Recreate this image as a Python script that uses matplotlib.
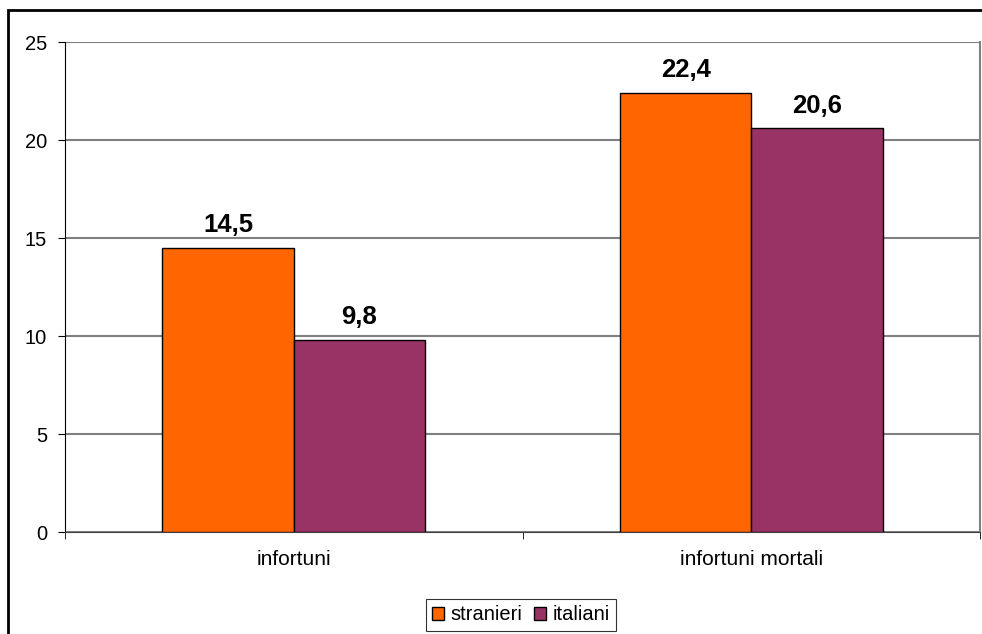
import matplotlib
matplotlib.use("Agg")
import matplotlib.pyplot as plt
import numpy as np
from matplotlib.patches import Rectangle

# Dati del grafico
categorie = ['infortuni', 'infortuni mortali']
stranieri = [14.5, 22.4]
italiani = [9.8, 20.6]
serie = ['stranieri', 'italiani']
colori = ['#FF6600', '#993366']

plt.rcParams['font.family'] = ['Liberation Sans', 'DejaVu Sans']

fig = plt.figure(figsize=(9.82, 6.34), dpi=100)
ax = fig.add_axes([65 / 982, 1 - 532 / 634, 915 / 982, 490 / 634])

# cornice esterna
fig.patches.append(Rectangle((8 / 982, -0.1), 1.2, 1 - 10 / 634 + 0.1,
                             transform=fig.transFigure, fill=False,
                             edgecolor='black', linewidth=2))

x = np.arange(len(categorie))
w = 0.287
b1 = ax.bar(x - w / 2, stranieri, w, color=colori[0], edgecolor='black',
            linewidth=1, label=serie[0], zorder=3)
b2 = ax.bar(x + w / 2, italiani, w, color=colori[1], edgecolor='black',
            linewidth=1, label=serie[1], zorder=3)

for bars, vals in [(b1, stranieri), (b2, italiani)]:
    for r, v in zip(bars, vals):
        ax.text(r.get_x() + r.get_width() / 2, v + 0.8, str(v).replace('.', ','),
                ha='center', va='baseline', fontsize=18.5, fontweight='bold')

ax.set_xlim(-0.5, 1.5)
ax.set_ylim(0, 25)
ax.set_yticks([0, 5, 10, 15, 20, 25])
ax.yaxis.grid(True, color='#808080', linewidth=1.5, zorder=0)
ax.set_xticks(x)
ax.set_xticklabels(categorie)
ax.set_xticks([-0.5, 0.5, 1.5], minor=True)
ax.tick_params(axis='x', which='major', length=0, pad=13, labelsize=15)
ax.tick_params(axis='x', which='minor', length=5, direction='out', color='black')
ax.tick_params(axis='y', length=5, direction='out', labelsize=14.5, pad=8)

ax.spines['top'].set_visible(False)
ax.spines['right'].set_color('#808080')
ax.spines['right'].set_linewidth(1.5)
ax.spines['left'].set_color('black')
ax.spines['bottom'].set_color('#404040')

leg = fig.legend(loc='center', bbox_to_anchor=(521 / 982, 1 - 615 / 634),
                 ncol=2, fontsize=14.5, frameon=True, fancybox=False,
                 handlelength=0.6, handleheight=0.6, handletextpad=0.3,
                 columnspacing=0.6, borderpad=0.3)
leg.get_frame().set_edgecolor('black')
leg.get_frame().set_linewidth(0.8)

fig.savefig('out.png', dpi=100)
